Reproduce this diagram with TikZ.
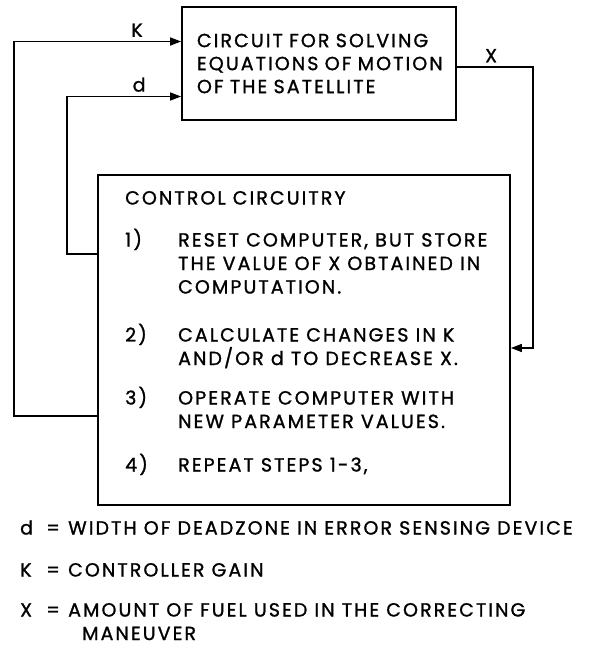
\documentclass[tikz,border=0pt]{standalone}
\usepackage{fontspec}
\setmainfont{Poppins}[LetterSpace=11, FakeBold=1.2]
\usepackage{tikz}
\usetikzlibrary{arrows.meta, positioning, calc}

\begin{document}
\begin{tikzpicture}[x=1pt, y=-1pt]
        \tikzstyle{block} = [rectangle, draw, line width=1.8pt, inner sep=0pt]
        \tikzstyle{line} = [draw, line width=1.5pt, -{Triangle[length=11pt, width=8pt]}]
        \tikzstyle{txt} = [inner sep=0pt, anchor=base west, align=left, font=\fontsize{19}{23.5}\selectfont]
        \tikzstyle{lbl} = [above, inner sep=4pt, font=\fontsize{19}{22}\selectfont]

        \useasboundingbox (0,0) rectangle (589,645);

        % the two boxes
        \node [block, minimum width=274pt, minimum height=113pt, text width=244pt, align=left,
               font=\fontsize{19}{23}\selectfont] (sat) at (319,63.5)
              {CIRCUIT FOR SOLVING\\EQUATIONS OF MOTION\\OF THE SATELLITE};
        \node [block, minimum width=412pt, minimum height=330pt] (ctrl) at (304,340) {};

        % text in the control box (base = last line)
        \node [txt] (title) at (125,204.5) {CONTROL CIRCUITRY};
        \node [txt] (n1) at (125,246.5) {1)};
        \node [txt] (s1) at (178,293.5) {RESET COMPUTER, BUT STORE\\THE VALUE OF X OBTAINED IN\\COMPUTATION.};
        \node [txt] (n2) at (125,341.5) {2)};
        \node [txt] (s2) at (178,365) {CALCULATE CHANGES IN K\\AND/OR d TO DECREASE X.};
        \node [txt] (n3) at (125,404.5) {3)};
        \node [txt] (s3) at (178,428) {OPERATE COMPUTER WITH\\NEW PARAMETER VALUES.};
        \node [txt] (n4) at (125,471.5) {4)};
        \node [txt] (s4) at (178,471.5) {REPEAT STEPS 1-3,};

        % feedback paths
        \path [line] ([yshift=-76pt]ctrl.west) -- ++(-83,0) |- node[lbl, pos=0.868]{K} ([yshift=22pt]sat.west);
        \path [line] ([yshift=86pt]ctrl.west) -- ++(-30,0) |- node[lbl, pos=0.816]{d} ([yshift=-33pt]sat.west);
        \path [line] ([yshift=-3.5pt]sat.east) -- node[lbl, pos=0.45]{X} ++(76,0) |- ([yshift=-8pt]ctrl.east);

        % legend
        \node [txt] (dsym) at (20,534.5) {d};
        \node [txt] (deq) at (46,534.5) {=};
        \node [txt] (ddef) at (68,534.5) {WIDTH OF DEADZONE IN ERROR SENSING DEVICE};
        \node [txt] (ksym) at (20,576.5) {K};
        \node [txt] (keq) at (46,576.5) {=};
        \node [txt] (kdef) at (68,576.5) {CONTROLLER GAIN};
        \node [txt] (xsym) at (20,616.5) {X};
        \node [txt] (xeq) at (46,616.5) {=};
        \node [txt, font=\fontsize{19}{23.5}\selectfont] (xdef) at (68,640) {AMOUNT OF FUEL USED IN THE CORRECTING\\\hspace{14pt}MANEUVER};
    \end{tikzpicture}
\end{document}
